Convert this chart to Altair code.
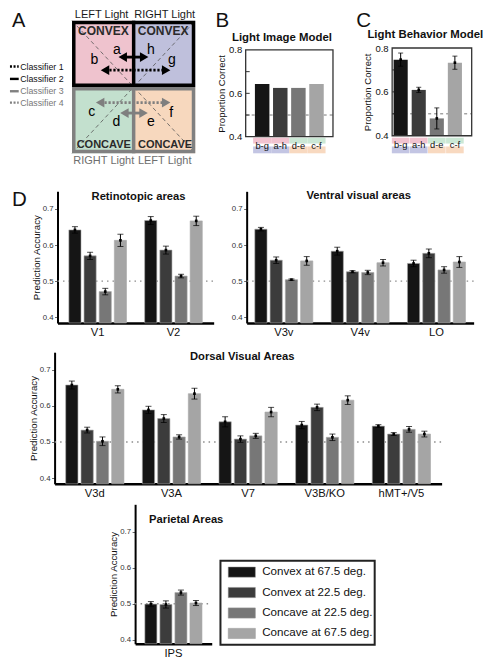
import altair as alt
import pandas as pd

FONT = "Liberation Sans"

# ------------------------------------------------------------------ data
conditions = ["Convex at 67.5 deg.", "Convex at 22.5 deg.",
              "Concave at 22.5 deg.", "Concave at 67.5 deg."]
greys = ["#151515", "#3c3c3c", "#777777", "#a5a5a5"]

pairs = ["b-g", "a-h", "d-e", "c-f"]
image_model = [0.643, 0.625, 0.625, 0.643]
behavior_model = [0.747, 0.609, 0.479, 0.733]
behavior_err = [0.030, 0.012, 0.048, 0.030]
pair_band_top = ["#f2c3d0", "#f2c3d0", "#cbe8d5", "#cbe8d5"]
pair_band_bottom = ["#c3c5e3", "#c3c5e3", "#f8d9c0", "#f8d9c0"]

retino_areas = ["V1", "V2"]
retino_mean = [[0.642, 0.570, 0.471, 0.613], [0.668, 0.586, 0.514, 0.667]]
retino_err = [[0.009, 0.010, 0.009, 0.017], [0.011, 0.011, 0.005, 0.013]]

ventral_areas = ["V3v", "V4v", "LO"]
ventral_mean = [[0.644, 0.558, 0.504, 0.556], [0.583, 0.526, 0.524, 0.551],
                [0.549, 0.577, 0.531, 0.553]]
ventral_err = [[0.005, 0.009, 0.002, 0.012], [0.011, 0.003, 0.006, 0.009],
               [0.009, 0.012, 0.009, 0.015]]

dorsal_areas = ["V3d", "V3A", "V7", "V3B/KO", "hMT+/V5"]
dorsal_mean = [[0.658, 0.533, 0.502, 0.646], [0.589, 0.565, 0.514, 0.634],
               [0.556, 0.508, 0.517, 0.583], [0.547, 0.596, 0.513, 0.616],
               [0.544, 0.522, 0.535, 0.522]]
dorsal_err = [[0.011, 0.008, 0.012, 0.010], [0.010, 0.011, 0.006, 0.015],
              [0.014, 0.009, 0.007, 0.013], [0.010, 0.009, 0.009, 0.012],
              [0.004, 0.004, 0.008, 0.008]]

parietal_areas = ["IPS"]
parietal_mean = [[0.499, 0.498, 0.531, 0.502]]
parietal_err = [[0.007, 0.010, 0.007, 0.007]]

# panel A diagram (units: the 2 x 2 quadrant box spans 0..2 in x and y)
quad_x0 = [0, 1, 0, 1]
quad_y0 = [1, 1, 0, 0]
quad_fill = ["#efc3ce", "#bfc0dc", "#c3e0ce", "#f7d8be"]

half_y0 = [1.026, 0.026]
half_y1 = [1.974, 0.974]
half_color = ["#000000", "#808080"]

seg_letters = ["a", "b", "h", "g", "c", "d", "e", "f"]
seg_x = [0.729, 0.362, 1.280, 1.622, 0.320, 0.720, 1.280, 1.611]
seg_y = [1.563, 1.401, 1.563, 1.401, 0.618, 0.471, 0.471, 0.607]

arrow_y = [1.451, 1.254, 0.765, 0.607]
arrow_left = [0.729, 0.441, 0.362, 0.756]
arrow_right = [1.265, 1.622, 1.622, 1.255]
arrow_color = ["#000000", "#000000", "#7f7f7f", "#7f7f7f"]
arrow_dotted = [False, True, True, False]

clf_labels = ["Classifier 1", "Classifier 2", "Classifier 3", "Classifier 4"]
clf_y = [1.309, 1.122, 0.936, 0.765]
clf_color = ["#000000", "#000000", "#808080", "#808080"]
clf_text_color = ["#111111", "#111111", "#777777", "#777777"]
clf_dotted = [True, False, False, True]

shape_labels = ["CONVEX", "CONVEX", "CONCAVE", "CONCAVE"]
shape_size = [12, 12, 11, 11]
shape_x = [0.51, 1.48, 0.515, 1.51]
shape_y = [1.846, 1.846, 0.122, 0.122]

light_labels = ["LEFT Light", "RIGHT Light", "RIGHT Light", "LEFT Light"]
light_x = [0.48, 1.504, 0.515, 1.504]
light_y = [2.044, 2.044, -0.166, -0.166]
light_color = ["#1a1a1a", "#1a1a1a", "#6e6e6e", "#6e6e6e"]

# ------------------------------------------------------------------ layout
W, H = 474, 650


def px(x):
    """reference-figure x pixel -> chart pixel"""
    return round((x - 2) * 0.97, 2)


def py(y):
    """reference-figure y pixel -> chart pixel"""
    return round((y - 5) * 0.975, 2)


def label_layer(text, x, y, size, weight="normal", color="#111111",
                align="left", baseline="alphabetic", opacity=1.0):
    return alt.Chart(pd.DataFrame({"t": [text]})).mark_text(
        fontSize=size, fontWeight=weight, color=color, align=align,
        baseline=baseline, opacity=opacity, font=FONT
    ).encode(text="t:N", x=alt.value(x), y=alt.value(y))


def one_row():
    return alt.Chart(pd.DataFrame({"k": [0]}))


# ------------------------------------------------------------------ panel A
xa = alt.Scale(domain=[0, 2], range=[px(67), px(194)], nice=False, zero=False)
ya = alt.Scale(domain=[0, 2], range=[py(153), py(17)], nice=False, zero=False)


def AX(f):
    return alt.X(f"{f}:Q", scale=xa, axis=None)


def AY(f):
    return alt.Y(f"{f}:Q", scale=ya, axis=None)


quad_df = pd.DataFrame({"x0": quad_x0, "y0": quad_y0, "fill": quad_fill})
quad_df["x1"] = quad_df["x0"] + 1
quad_df["y1"] = quad_df["y0"] + 1
fills = alt.Chart(quad_df).mark_rect().encode(
    x=AX("x0"), x2="x1", y=AY("y0"), y2="y1", fill=alt.Fill("fill:N", scale=None))

diag_df = pd.DataFrame({"x0": [0, 0], "y0": [2, 0], "x1": [2, 2], "y1": [0, 2]})
diagonals = alt.Chart(diag_df).mark_rule(
    color="#555555", strokeDash=[4, 3], strokeWidth=0.8).encode(
    x=AX("x0"), x2="x1", y=AY("y0"), y2="y1")

half_df = pd.DataFrame({"y0": half_y0, "y1": half_y1, "stroke": half_color})
half_df["x0"] = 0.028
half_df["x1"] = 1.972
outlines = alt.Chart(half_df).mark_rect(fillOpacity=0, strokeWidth=3.5).encode(
    x=AX("x0"), x2="x1", y=AY("y0"), y2="y1", stroke=alt.Stroke("stroke:N", scale=None))

div_df = pd.DataFrame({"x": [1, 1], "y0": [1.0, 0.0], "y1": [2.0, 1.0], "stroke": half_color})
dividers = alt.Chart(div_df).mark_rule(strokeWidth=3.5).encode(
    x=AX("x"), y=AY("y0"), y2="y1", color=alt.Color("stroke:N", scale=None))

arrow_df = pd.DataFrame({"y": arrow_y, "xl": arrow_left, "xr": arrow_right,
                         "color": arrow_color, "dotted": arrow_dotted})
arrow_df["x0"] = arrow_df["xl"] + 0.1
arrow_df["x1"] = arrow_df["xr"] - 0.1
arrow_df["hl"] = arrow_df["xl"] + 0.094
arrow_df["hr"] = arrow_df["xr"] - 0.094
arrow_solid = alt.Chart(arrow_df[~arrow_df["dotted"]]).mark_rule(
    strokeWidth=2.8, strokeCap="butt").encode(
    x=AX("x0"), x2="x1", y=AY("y"), color=alt.Color("color:N", scale=None))
arrow_dot = alt.Chart(arrow_df[arrow_df["dotted"]]).mark_rule(
    strokeWidth=2.6, strokeDash=[2.2, 1.8], strokeCap="butt").encode(
    x=AX("x0"), x2="x1", y=AY("y"), color=alt.Color("color:N", scale=None))
head_left = alt.Chart(arrow_df).mark_point(
    shape="triangle-left", filled=True, size=95, opacity=1).encode(
    x=AX("hl"), y=AY("y"), color=alt.Color("color:N", scale=None))
head_right = alt.Chart(arrow_df).mark_point(
    shape="triangle-right", filled=True, size=95, opacity=1).encode(
    x=AX("hr"), y=AY("y"), color=alt.Color("color:N", scale=None))

clf_df = pd.DataFrame({"label": clf_labels, "y": clf_y, "color": clf_color,
                       "tcolor": clf_text_color, "dotted": clf_dotted})
clf_df["x0"] = -1.008
clf_df["x1"] = -0.866
clf_df["xt"] = -0.843
clf_solid = alt.Chart(clf_df[~clf_df["dotted"]]).mark_rule(
    strokeWidth=2.4, strokeCap="butt").encode(
    x=AX("x0"), x2="x1", y=AY("y"), color=alt.Color("color:N", scale=None))
clf_dot = alt.Chart(clf_df[clf_df["dotted"]]).mark_rule(
    strokeWidth=2.4, strokeDash=[2, 1.6], strokeCap="butt").encode(
    x=AX("x0"), x2="x1", y=AY("y"), color=alt.Color("color:N", scale=None))
clf_text = alt.Chart(clf_df).mark_text(
    fontSize=8.8, align="left", baseline="middle", font=FONT).encode(
    x=AX("xt"), y=AY("y"), text="label:N", color=alt.Color("tcolor:N", scale=None))

seg_df = pd.DataFrame({"t": seg_letters, "x": seg_x, "y": seg_y})
seg_text = alt.Chart(seg_df).mark_text(
    fontSize=14, align="center", baseline="middle", color="#000000", font=FONT).encode(
    x=AX("x"), y=AY("y"), text="t:N")

shape_df = pd.DataFrame({"t": shape_labels, "x": shape_x, "y": shape_y, "s": shape_size})
shape_text = alt.Chart(shape_df).mark_text(
    fontWeight="bold", align="center", baseline="middle",
    color="#2a2a2a", font=FONT).encode(
    x=AX("x"), y=AY("y"), text="t:N", size=alt.Size("s:Q", scale=None))

light_df = pd.DataFrame({"t": light_labels, "x": light_x, "y": light_y, "c": light_color})
light_text = alt.Chart(light_df).mark_text(
    fontSize=11, align="center", baseline="alphabetic", font=FONT).encode(
    x=AX("x"), y=AY("y"), text="t:N", color=alt.Color("c:N", scale=None))

panelA = alt.layer(
    fills, diagonals, outlines, dividers, arrow_solid, arrow_dot, head_left, head_right,
    clf_solid, clf_dot, clf_text, seg_text, shape_text, light_text,
    label_layer("A", px(5), py(6.8), 20, baseline="top"),
)


# ------------------------------------------------------------------ panels B, C
def model_panel(values, errs, title, letter, frame, pad_inner, pad_outer, align,
                title_pos, letter_pos):
    L, T, R, B = px(frame[0]), py(frame[1]), px(frame[2]), py(frame[3])
    df = pd.DataFrame({"pair": pairs, "value": values, "cond": conditions,
                       "band_top": pair_band_top, "band_bottom": pair_band_bottom})
    df["base"] = 0.4
    ys = alt.Scale(domain=[0.4, 0.8], range=[B, T], nice=False, zero=False)
    yaxis = alt.Axis(orient="left", offset=-L, values=[0.4, 0.6, 0.8], format=".1f",
                     ticks=False, tickSize=0, domain=False, grid=False,
                     labelFontSize=9.5, labelColor="#111111", labelPadding=4,
                     title="Proportion Correct", titleFontSize=9.5,
                     titleFontWeight="normal", titleColor="#111111", titlePadding=2)
    xaxis = alt.Axis(orient="bottom", offset=B - H, title=None, labelAngle=0,
                     ticks=False, tickSize=0, domain=False, grid=False,
                     labelFontSize=9.3, labelColor="#111111", labelPadding=5, zindex=1)
    x = alt.X("pair:N", sort=pairs,
              scale=alt.Scale(domain=pairs, range=[L, R], paddingInner=pad_inner,
                              paddingOuter=pad_outer, align=align), axis=xaxis)
    color = alt.Color("cond:N", scale=alt.Scale(domain=conditions, range=greys), legend=None)
    base = alt.Chart(df)
    band = alt.RelativeBandSize(band=1.25)
    layers = [
        alt.Chart(pd.DataFrame({"chance": [0.5]})).mark_rule(
            color="#555555", strokeDash=[3, 3], strokeWidth=0.8).encode(
            y=alt.Y("chance:Q", scale=ys, axis=yaxis), x=alt.value(L), x2=alt.value(R)),
        alt.Chart(pd.DataFrame({"tick": [0.5, 0.6, 0.7]})).mark_rule(
            color="#333333", strokeWidth=1).encode(
            y=alt.Y("tick:Q", scale=ys, axis=yaxis), x=alt.value(L), x2=alt.value(L + 4)),
        base.mark_bar().encode(x=x, y=alt.Y("value:Q", scale=ys, axis=yaxis),
                               y2="base:Q", color=color),
        base.mark_bar(width=band).encode(
            x=x, y=alt.value(py(137)), y2=alt.value(py(143)),
            fill=alt.Fill("band_top:N", scale=None)),
        base.mark_bar(width=band).encode(
            x=x, y=alt.value(py(146)), y2=alt.value(py(153)),
            fill=alt.Fill("band_bottom:N", scale=None)),
    ]
    if errs is not None:
        df["lo"] = [v - e for v, e in zip(values, errs)]
        df["hi"] = [v + e for v, e in zip(values, errs)]
        base = alt.Chart(df)
        layers += [
            base.mark_rule(color="#000000", strokeWidth=1).encode(
                x=x, y=alt.Y("lo:Q", scale=ys, axis=yaxis), y2="hi:Q"),
            base.mark_tick(color="#000000", thickness=1, size=5).encode(
                x=x, y=alt.Y("lo:Q", scale=ys, axis=yaxis)),
            base.mark_tick(color="#000000", thickness=1, size=5).encode(
                x=x, y=alt.Y("hi:Q", scale=ys, axis=yaxis)),
            base.mark_square(size=7, color="#000000", opacity=1).encode(
                x=x, y=alt.Y("value:Q", scale=ys, axis=yaxis)),
        ]
    layers += [
        one_row().mark_rect(fillOpacity=0, stroke="#333333", strokeWidth=1.3).encode(
            x=alt.value(L), x2=alt.value(R), y=alt.value(T), y2=alt.value(B)),
        label_layer(title, px(title_pos[0]), py(title_pos[1]), 11.4, "bold", align="center"),
        label_layer(letter, px(letter_pos[0]), py(letter_pos[1]), 20.5, baseline="top"),
    ]
    return alt.layer(*layers)


panelB = model_panel(image_model, None, "Light Image Model", "B", (246, 47, 336, 136),
                     0.2, 0.51, 0.5, (283.4, 37.5), (215, 6.7))
panelC = model_panel(behavior_model, behavior_err, "Light Behavior Model", "C",
                     (397, 45, 479, 135), 0.22, 0.31, 0.13, (431.2, 34.5), (360, 6.7))


# ------------------------------------------------------------------ panel D
def area_panel(areas, means, errs, frame, y_dom, pad_outer, title, title_pos, ytitle,
               letter=None, letter_pos=None):
    L, T, R, B = px(frame[0]), py(frame[1]), px(frame[2]), py(frame[3])
    rows = []
    for area, ms, es in zip(areas, means, errs):
        for c, m, e in zip(conditions, ms, es):
            rows.append({"area": area, "cond": c, "mean": m, "lo": m - e,
                         "hi": m + e, "base": y_dom[0]})
    df = pd.DataFrame(rows)
    ys = alt.Scale(domain=y_dom, range=[B, T], nice=False, zero=False)
    yaxis = alt.Axis(orient="left", offset=-L, values=[0.4, 0.5, 0.6, 0.7], format=".1f",
                     grid=False, domainColor="#000000", domainWidth=2,
                     tickColor="#444444", tickSize=3, tickWidth=0.8, labelFontSize=7.8,
                     labelColor="#333333", labelPadding=1.5,
                     title="Prediction Accuracy" if ytitle else None,
                     titleFontSize=9.7, titleFontWeight="normal", titleColor="#111111",
                     titlePadding=1)
    xaxis = alt.Axis(orient="bottom", offset=B - H, title=None, labelAngle=0,
                     ticks=False, tickSize=0, domainColor="#000000", domainWidth=2.5,
                     labelFontSize=11.2, labelColor="#111111", labelPadding=4, grid=False)
    x = alt.X("area:N", sort=areas,
              scale=alt.Scale(domain=areas, range=[L, R], paddingInner=0.24,
                              paddingOuter=pad_outer), axis=xaxis)
    xo = alt.XOffset("cond:N", sort=conditions,
                     scale=alt.Scale(domain=conditions, paddingInner=0.2, paddingOuter=0))
    color = alt.Color("cond:N", scale=alt.Scale(domain=conditions, range=greys), legend=None)
    base = alt.Chart(df)
    layers = [
        alt.Chart(pd.DataFrame({"chance": [0.5]})).mark_rule(
            color="#8c8c8c", strokeDash=[1.5, 4], strokeWidth=1.3).encode(
            y=alt.Y("chance:Q", scale=ys, axis=yaxis), x=alt.value(L), x2=alt.value(R)),
        base.mark_bar(stroke="#a8a8a8", strokeWidth=0.6).encode(
            x=x, xOffset=xo, y=alt.Y("mean:Q", scale=ys, axis=yaxis), y2="base:Q",
            color=color),
        base.mark_rule(color="#000000", strokeWidth=1).encode(
            x=x, xOffset=xo, y=alt.Y("lo:Q", scale=ys, axis=yaxis), y2="hi:Q"),
        base.mark_tick(color="#000000", thickness=1, size=6).encode(
            x=x, xOffset=xo, y=alt.Y("lo:Q", scale=ys, axis=yaxis)),
        base.mark_tick(color="#000000", thickness=1, size=6).encode(
            x=x, xOffset=xo, y=alt.Y("hi:Q", scale=ys, axis=yaxis)),
        base.mark_square(size=7, color="#000000", opacity=1).encode(
            x=x, xOffset=xo, y=alt.Y("mean:Q", scale=ys, axis=yaxis)),
        label_layer(title, px(title_pos[0]), py(title_pos[1]), 11.2, "bold", align="center"),
    ]
    if letter is not None:
        layers.append(label_layer(letter, px(letter_pos[0]), py(letter_pos[1]), 20.5,
                                  baseline="top"))
    return alt.layer(*layers)


retino = area_panel(retino_areas, retino_mean, retino_err, (52, 192, 213, 327),
                    [0.384, 0.749], 0.15, "Retinotopic areas", (135.5, 200.7), True,
                    letter="D", letter_pos=(5, 190.4))
ventral = area_panel(ventral_areas, ventral_mean, ventral_err, (247, 192, 481, 327),
                     [0.384, 0.749], 0.107, "Ventral visual areas", (362.5, 200.2), False)
dorsal = area_panel(dorsal_areas, dorsal_mean, dorsal_err, (49, 357, 448, 492),
                    [0.384, 0.749], 0.145, "Dorsal Visual Areas", (242.5, 365), True)
parietal = area_panel(parietal_areas, parietal_mean, parietal_err, (132, 513, 211, 656),
                      [0.389, 0.776], 0.13, "Parietal Areas", (184.7, 531.7), True)

# ------------------------------------------------------------------ legend
leg_df = pd.DataFrame({"cond": conditions})
leg_y = alt.Y("cond:N", sort=conditions,
              scale=alt.Scale(domain=conditions, range=[py(571), py(657)],
                              paddingInner=0.5, paddingOuter=0.3), axis=None)
legend = alt.layer(
    one_row().mark_rect(fill="#ffffff", stroke="#222222", strokeWidth=2).encode(
        x=alt.value(px(220)), x2=alt.value(px(379)), y=alt.value(py(571)),
        y2=alt.value(py(657))),
    alt.Chart(leg_df).mark_rect(stroke="#999999", strokeWidth=0.5).encode(
        y=leg_y, x=alt.value(px(228)), x2=alt.value(px(256)),
        color=alt.Color("cond:N", scale=alt.Scale(domain=conditions, range=greys),
                        legend=None)),
    alt.Chart(leg_df).mark_text(
        align="left", baseline="middle", fontSize=11.6, color="#111111", font=FONT).encode(
        y=leg_y, x=alt.value(px(263)), text="cond:N"),
)

# ------------------------------------------------------------------ assemble
chart = alt.layer(
    panelA, panelB, panelC, retino, ventral, dorsal, parietal, legend
).resolve_scale(
    x="independent", y="independent", xOffset="independent",
    color="independent", fill="independent", stroke="independent", size="independent",
).resolve_axis(
    x="independent", y="independent"
).properties(
    width=W, height=H, padding=0, background="#ffffff"
).configure(font=FONT).configure_view(stroke=None).configure_axis(grid=False)

chart.save("out.html", embed_options={"renderer": "svg", "actions": False})
